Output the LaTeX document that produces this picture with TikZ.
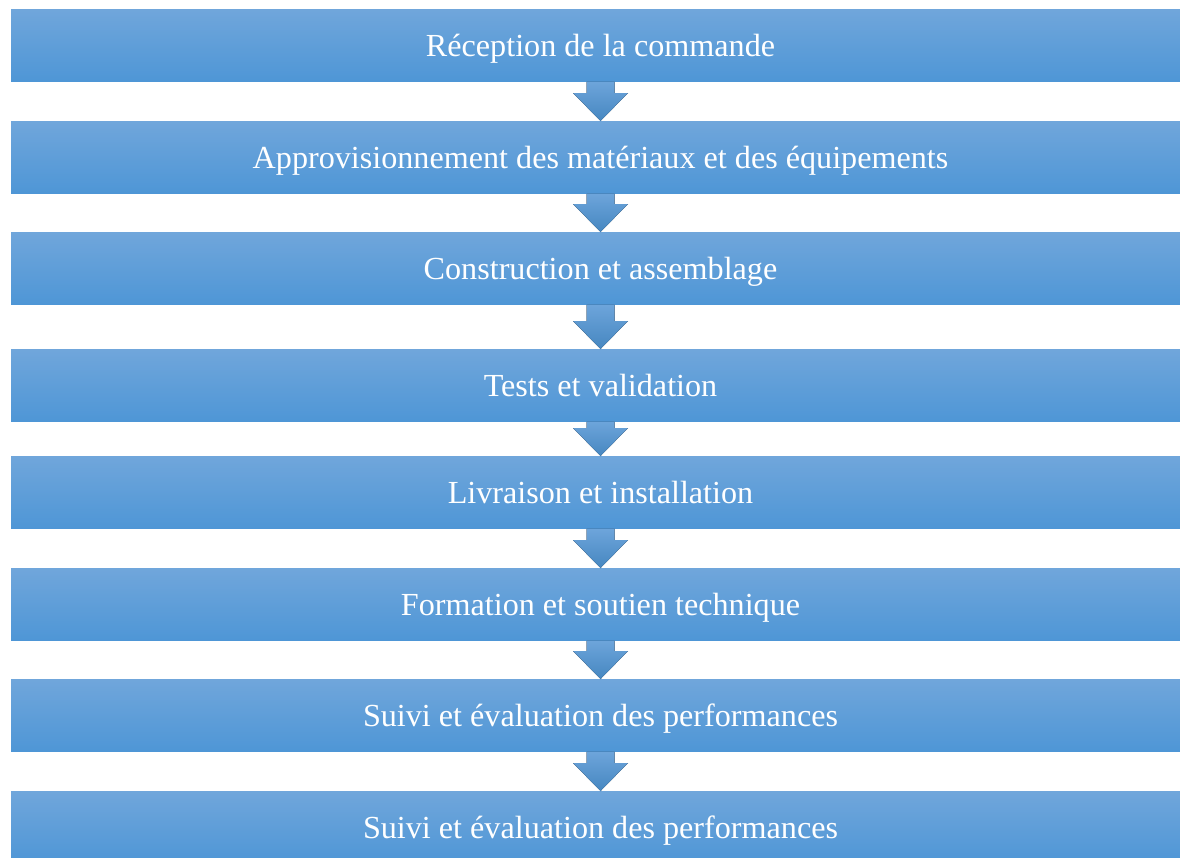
\documentclass[tikz,border=0pt]{standalone}
\usepackage{fontspec}
\setmainfont{Liberation Serif}
\usetikzlibrary{calc}
\definecolor{stepTop}{RGB}{112,166,219}
\definecolor{stepBot}{RGB}{78,150,214}
\tikzset{
  stepbox/.style={rectangle, top color=stepTop, bottom color=stepBot, draw=none,
    minimum width=23.58cm, minimum height=1.46cm, inner sep=0pt, outer sep=0pt,
    text=white, font=\fontsize{18.3}{21}\selectfont},
  flowarrow/.style={top color=stepTop!90!stepBot, bottom color=stepBot!90!black}
}
\newcommand{\steptext}[1]{\raisebox{-6pt}[0pt][0pt]{#1}}
\begin{document}
\begin{tikzpicture}[x=0.02cm,y=-0.02cm]
    \useasboundingbox (0,0) rectangle (1180,858);

    \node[stepbox] (S1) at (600.5,45.5) {\steptext{Réception de la commande}};
    \node[stepbox] (S2) at (600.5,157.5) {\steptext{Approvisionnement des matériaux et des équipements}};
    \node[stepbox] (S3) at (600.5,268.5) {\steptext{Construction et assemblage}};
    \node[stepbox] (S4) at (600.5,385.5) {\steptext{Tests et validation}};
    \node[stepbox] (S5) at (600.5,492.5) {\steptext{Livraison et installation}};
    \node[stepbox] (S6) at (600.5,604.5) {\steptext{Formation et soutien technique}};
    \node[stepbox] (S7) at (600.5,715.5) {\steptext{Suivi et évaluation des performances}};
    \node[stepbox] (S8) at (600.5,827.5) {\steptext{Suivi et évaluation des performances}};

    \foreach \a/\b in {S1/S2, S2/S3, S3/S4, S4/S5, S5/S6, S6/S7, S7/S8}
        \fill[flowarrow] ($(\a.south)+(-14,0)$) -- ($(\a.south)+(14,0)$)
            -- ($(\b.north)+(14,-28)$) -- ($(\b.north)+(27.5,-28)$) -- (\b.north)
            -- ($(\b.north)+(-27.5,-28)$) -- ($(\b.north)+(-14,-28)$) -- cycle;
\end{tikzpicture}
\end{document}
